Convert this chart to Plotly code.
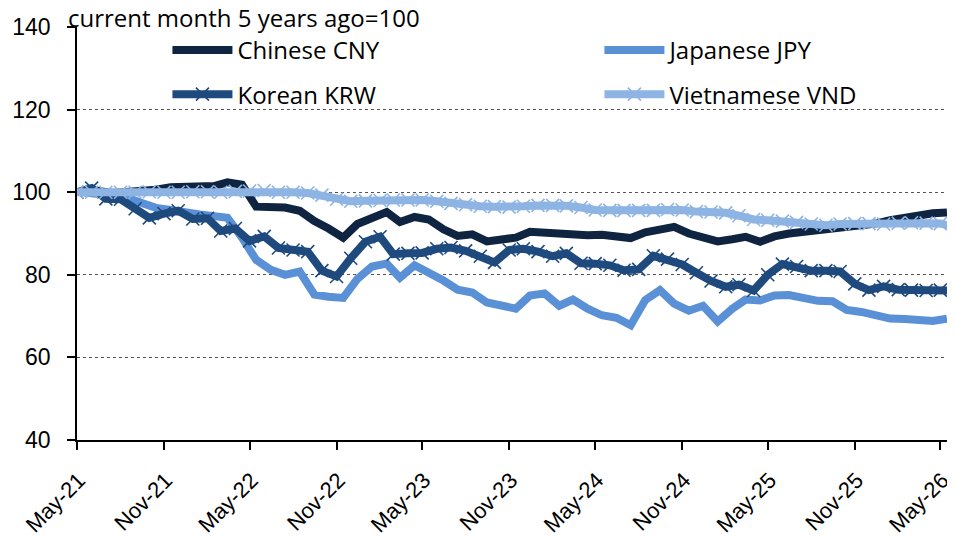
import pandas as pd
import plotly.graph_objects as go

# monthly index values, current month 5 years ago = 100
months = pd.date_range("2021-05-01", periods=62, freq="MS")
months_mid = months[:61] + pd.Timedelta(days=14)

cny = [100.0, 100.3, 99.8, 100.0, 100.3, 100.6, 101.2, 101.4, 101.5, 101.5,
       102.4, 101.8, 96.5, 96.5, 96.3, 95.5, 93.0, 91.2, 89.0, 92.3,
       94.0, 95.2, 92.8, 94.0, 93.4, 91.0, 89.4, 89.8, 88.1, 88.6,
       89.0, 90.4, 90.2, 89.8, 89.6, 89.6, 89.7, 89.5, 88.9, 90.3,
       91.0, 91.6, 90.0, 89.0, 88.1, 88.6, 89.2, 88.0, 89.3, 90.0,
       90.4, 90.7, 91.2, 91.4, 91.7, 92.4, 93.2, 93.9, 94.3, 94.9, 95.1]

jpy = [100.0, 99.6, 99.4, 98.7, 97.4, 96.2, 95.7, 95.0, 94.6, 94.2,
       93.8, 89.0, 83.6, 81.2, 80.0, 80.8, 75.2, 74.7, 74.4, 79.0,
       82.0, 82.7, 79.3, 82.3, 80.7, 78.6, 76.4, 75.7, 73.3, 72.5,
       71.8, 75.0, 75.5, 72.5, 74.0, 71.8, 70.2, 69.6, 67.8, 73.9,
       76.3, 73.0, 71.3, 72.5, 68.7, 71.8, 74.0, 73.8, 75.0, 75.1,
       74.2, 73.7, 73.6, 71.5, 71.0, 70.0, 69.4, 69.3, 69.0, 68.8, 69.4]

krw = [100.0, 101.0, 98.4, 98.3, 96.0, 93.8, 94.8, 95.5, 93.5, 93.7,
       90.6, 91.2, 88.2, 89.3, 86.5, 86.0, 85.6, 81.0, 79.6, 84.0,
       88.0, 89.2, 85.0, 85.2, 85.3, 86.3, 86.6, 85.8, 84.5, 83.0,
       86.0, 86.3, 85.6, 84.5, 85.2, 82.8, 82.7, 82.3, 81.1, 81.3,
       84.6, 83.8, 82.5, 80.5, 78.5, 77.1, 77.6, 76.2, 80.0, 82.6,
       82.0, 81.0, 81.0, 80.8, 77.8, 76.3, 77.2, 76.4, 76.3, 76.2,
       76.3, 76.2]

vnd = [100.0, 100.0, 100.0, 100.0, 100.0, 100.1, 100.0, 100.0, 100.1, 100.1,
       100.0, 100.2, 100.3, 100.4, 100.0, 100.0, 99.8, 99.3, 98.3, 97.8,
       97.9, 98.0, 98.1, 98.1, 98.1, 97.8, 97.3, 97.0, 96.6, 96.5,
       96.4, 96.6, 96.8, 96.8, 96.7, 96.3, 95.7, 95.6, 95.6, 95.6,
       95.6, 95.8, 95.7, 95.3, 95.2, 95.0, 94.3, 93.4, 93.2, 93.0,
       92.7, 92.3, 92.0, 92.3, 92.4, 92.4, 92.3, 92.5, 92.6, 92.5,
       92.4, 91.6]

TEXT_FONT = "Open Sans"
AXIS_FONT = "Liberation Sans"

fig = go.Figure()

fig.add_trace(go.Scatter(x=months_mid, y=cny, name="Chinese CNY", mode="lines",
                         line=dict(color="#0f2440", width=8),
                         legend="legend", legendgroup="a"))
fig.add_trace(go.Scatter(x=months_mid, y=jpy, name="Japanese JPY", mode="lines",
                         line=dict(color="#5990d6", width=8),
                         legend="legend2", legendgroup="b"))
fig.add_trace(go.Scatter(x=months, y=krw, name="Korean KRW", mode="lines+markers",
                         line=dict(color="#1f4a7e", width=8),
                         marker=dict(symbol="x-thin", size=13,
                                     line=dict(color="#1f4a7e", width=1.6)),
                         legend="legend", legendgroup="c"))
fig.add_trace(go.Scatter(x=months, y=vnd, name="Vietnamese VND", mode="lines+markers",
                         line=dict(color="#8eb4e3", width=8),
                         marker=dict(symbol="x-thin", size=13,
                                     line=dict(color="#8eb4e3", width=1.6)),
                         legend="legend2", legendgroup="d"))

legend_style = dict(
    orientation="v",
    xanchor="left", yanchor="top",
    y=0.998,
    font=dict(family=TEXT_FONT, size=24, color="black"),
    bgcolor="rgba(0,0,0,0)",
    tracegroupgap=10,
    itemwidth=60,
)

# the page body adds an 8px offset, so the figure is sized to fit the window
fig.update_layout(
    width=947, height=529,
    margin=dict(l=69, r=0, t=19, b=97, autoexpand=False),
    plot_bgcolor="white",
    paper_bgcolor="white",
    showlegend=True,
    legend=dict(x=0.103, **legend_style),
    legend2=dict(x=0.595, **legend_style),
    annotations=[dict(
        text="current month 5 years ago=100",
        xref="paper", yref="paper",
        x=-0.012, y=1.024, xanchor="left", yanchor="middle",
        showarrow=False,
        font=dict(family=TEXT_FONT, size=24, color="black"),
    )],
)

fig.update_xaxes(
    type="date",
    range=["2021-05-01", "2026-06-01"],
    tick0="2021-05-01", dtick="M6", tickformat="%b-%y",
    tickangle=-45,
    ticks="outside", ticklen=8, tickcolor="black", tickwidth=1.5,
    showline=True, linecolor="black", linewidth=1.5,
    showgrid=False, zeroline=False, automargin=False,
    ticklabelstandoff=9, ticklabelshift=2, ticklabeloverflow="allow",
    tickfont=dict(family=AXIS_FONT, size=22, color="black"),
)
fig.update_yaxes(
    range=[40, 140],
    tick0=40, dtick=20,
    ticks="outside", ticklen=8, tickcolor="black", tickwidth=1.5,
    showline=True, linecolor="black", linewidth=1.5,
    showgrid=True, gridcolor="#555555", gridwidth=1, griddash="dot",
    zeroline=False, automargin=False, ticklabelstandoff=12,
    tickfont=dict(family=AXIS_FONT, size=23, color="black"),
)

fig.write_html("out.html")
